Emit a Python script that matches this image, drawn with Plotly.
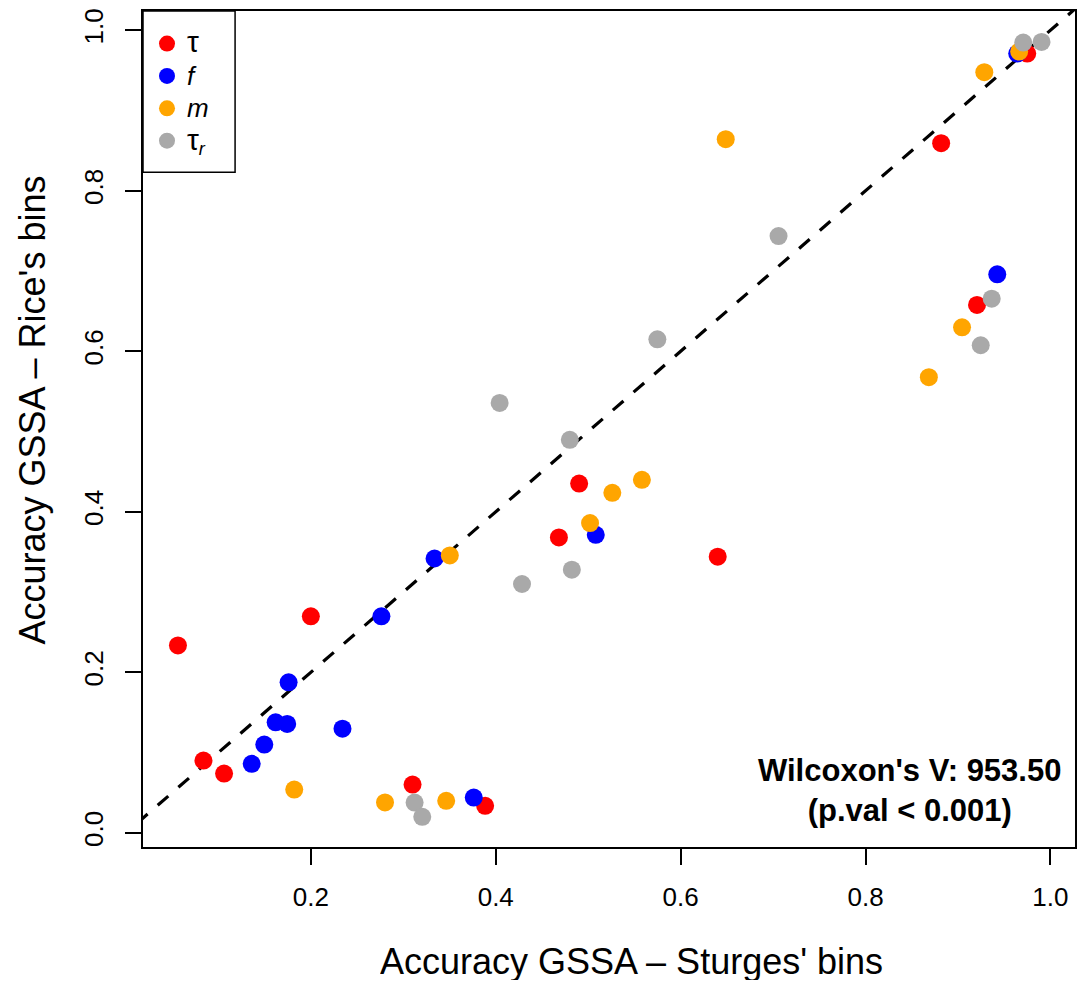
import plotly.graph_objects as go

# Accuracy of GSSA per parameter: Sturges' bins (x) vs Rice's bins (y)
tau_x = [0.0562, 0.0838, 0.1061, 0.2000, 0.3100, 0.3885, 0.4683, 0.4902, 0.6401, 0.8818, 0.9206, 0.9749]
tau_y = [0.2335, 0.0900, 0.0738, 0.2697, 0.0601, 0.0336, 0.3680, 0.4352, 0.3440, 0.8593, 0.6577, 0.9710]

f_x = [0.1360, 0.1496, 0.1619, 0.1744, 0.1759, 0.2342, 0.2763, 0.3338, 0.3762, 0.5082, 0.9425, 0.9641]
f_y = [0.0859, 0.1099, 0.1377, 0.1357, 0.1875, 0.1298, 0.2697, 0.3418, 0.0439, 0.3713, 0.6959, 0.9710]

m_x = [0.1820, 0.2802, 0.3464, 0.3503, 0.5020, 0.5261, 0.5581, 0.6488, 0.8685, 0.9044, 0.9285, 0.9662]
m_y = [0.0539, 0.0379, 0.0398, 0.3456, 0.3859, 0.4236, 0.4398, 0.8643, 0.5677, 0.6299, 0.9477, 0.9735]

taur_x = [0.3122, 0.3205, 0.4042, 0.4284, 0.4801, 0.4823, 0.5748, 0.7059, 0.9246, 0.9365, 0.9706, 0.9904]
taur_y = [0.0377, 0.0199, 0.5357, 0.3100, 0.4896, 0.3278, 0.6149, 0.7435, 0.6075, 0.6655, 0.9847, 0.9855]

series = [
    ("<span style='font-size:30px'>τ</span>", tau_x, tau_y, "#FF0000"),
    ("<i>f</i>", f_x, f_y, "#0000FF"),
    ("<i>m</i>", m_x, m_y, "#FFA500"),
    ("<span style='font-size:30px'>τ</span><sub><i>r</i></sub>", taur_x, taur_y, "#A9A9A9"),
]

wilcoxon_v = 953.50
p_label = "(p.val < 0.001)"

x_title = "Accuracy GSSA – Sturges' bins"
y_title = "Accuracy GSSA – Rice's bins"

x_ticks = [0.2, 0.4, 0.6, 0.8, 1.0]
y_ticks = [0.0, 0.2, 0.4, 0.6, 0.8, 1.0]

FONT = "Liberation Sans, Arial, Helvetica, sans-serif"

fig = go.Figure()

# identity line y = x
fig.add_trace(go.Scatter(
    x=[-0.1, 1.1], y=[-0.1, 1.1], mode="lines",
    line=dict(color="black", width=3.2, dash="14px,13.4px"),
    showlegend=False, hoverinfo="skip",
))

for name, xs, ys, col in series:
    fig.add_trace(go.Scatter(
        x=xs, y=ys, mode="markers",
        name=f"<span style='font-size:26px'>{name}</span>",
        marker=dict(color=col, size=18, line=dict(width=0)),
    ))

axis_common = dict(
    showgrid=False, zeroline=False,
    showline=True, mirror=True, linecolor="black", linewidth=1.5,
    ticks="outside", ticklen=16, tickwidth=1.5, tickcolor="black",
    tickfont=dict(family=FONT, size=26, color="black"),
)

fig.update_xaxes(
    range=[0.0184, 1.0266], tickvals=x_ticks,
    ticktext=[f"{v:.1f}" for v in x_ticks],
    ticklabelstandoff=10,
    **axis_common,
)
fig.update_yaxes(
    range=[-0.0177, 1.024], tickvals=y_ticks,
    ticktext=[f"{v:.1f}" for v in y_ticks],
    tickangle=-90, ticklabelstandoff=12,
    **axis_common,
)

# axis titles
fig.add_annotation(
    x=0.524, y=-0.136, xref="paper", yref="paper",
    xanchor="center", yanchor="middle", showarrow=False, height=38,
    text=x_title, font=dict(family=FONT, size=36, color="black"),
)
fig.add_annotation(
    x=-0.1184, y=0.5228, xref="paper", yref="paper",
    xanchor="center", yanchor="middle", showarrow=False, textangle=-90,
    text=y_title, font=dict(family=FONT, size=36, color="black"),
)

# statistic label in the lower right of the panel
fig.add_annotation(
    x=0.8478, y=0.0527, xref="x", yref="y",
    text=f"<b>Wilcoxon's V: {wilcoxon_v:.2f}</b><br><b>{p_label}</b>",
    showarrow=False, align="center",
    font=dict(family=FONT, size=31, color="black"),
)

# legend frame
fig.add_shape(
    type="rect", xref="paper", yref="paper",
    x0=0, x1=0.0988, y0=0.8072, y1=1,
    line=dict(color="black", width=1.5), fillcolor="rgba(0,0,0,0)",
)

fig.update_layout(
    width=1080, height=981,
    margin=dict(l=143, r=3, t=11, b=134),
    paper_bgcolor="white", plot_bgcolor="white",
    font=dict(family=FONT, color="black"),
    legend=dict(
        x=0.0043, y=0.9864, xanchor="left", yanchor="top",
        bgcolor="rgba(0,0,0,0)", borderwidth=0,
        font=dict(family=FONT, size=22.6, color="black"),
        itemsizing="trace", tracegroupgap=0,
    ),
)

fig.write_html("out.html")
